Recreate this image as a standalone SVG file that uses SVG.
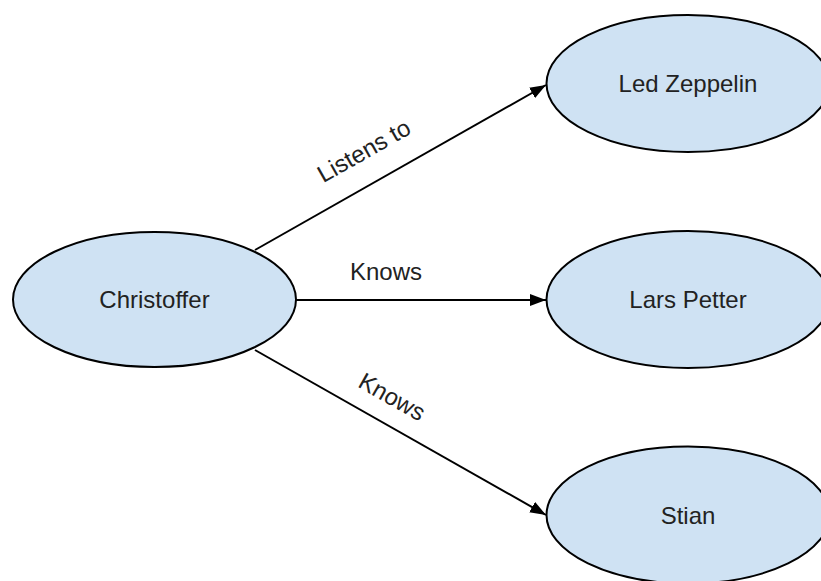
<svg xmlns="http://www.w3.org/2000/svg" width="821" height="581" viewBox="0 0 821 581">
  <style>
    .node ellipse { fill: #cfe2f3; stroke: #000; stroke-width: 2; }
    .label { font-family: "Liberation Sans", Arial, sans-serif; font-size: 24px; fill: #222; text-anchor: middle; }
    .edge { stroke: #000; stroke-width: 2; fill: none; marker-end: url(#arrow); }
  </style>
  <defs>
    <marker id="arrow" markerUnits="userSpaceOnUse" markerWidth="16" markerHeight="12" refX="16" refY="6" orient="auto">
      <path d="M0,0 L16,6 L0,12 z" fill="#000"/>
    </marker>
  </defs>
  <rect width="821" height="581" fill="#fff"/>

  <g id="connectors">
    <line class="edge" x1="255" y1="250" x2="546" y2="85"/>
    <line class="edge" x1="296" y1="300" x2="546" y2="300"/>
    <line class="edge" x1="255" y1="350" x2="546" y2="515"/>
    <text class="label" transform="translate(368,158) rotate(-29.5)">Listens to</text>
    <text class="label" x="386" y="280">Knows</text>
    <text class="label" transform="translate(388,404) rotate(29.5)">Knows</text>
  </g>

  <g id="christoffer" class="node">
    <ellipse cx="154.5" cy="299.5" rx="141.5" ry="67.5"/>
    <text class="label" x="154.5" y="308">Christoffer</text>
  </g>
  <g id="led-zeppelin" class="node">
    <ellipse cx="688" cy="83.5" rx="141.5" ry="68.5"/>
    <text class="label" x="688" y="92">Led Zeppelin</text>
  </g>
  <g id="lars-petter" class="node">
    <ellipse cx="688" cy="299.5" rx="141.5" ry="68.5"/>
    <text class="label" x="688" y="308">Lars Petter</text>
  </g>
  <g id="stian" class="node">
    <ellipse cx="688" cy="515" rx="141.5" ry="68.5"/>
    <text class="label" x="688" y="524">Stian</text>
  </g>
</svg>
